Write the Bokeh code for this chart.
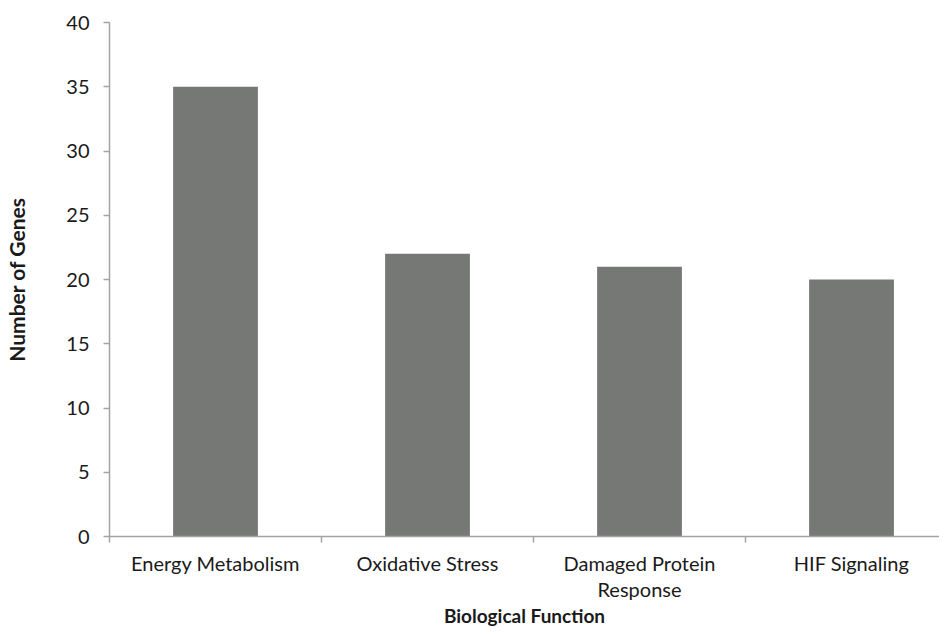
from bokeh.plotting import figure
from bokeh.models import Range1d, FixedTicker, ColumnDataSource
from bokeh.embed import file_html
from bokeh.resources import INLINE

categories = ["Energy Metabolism", "Oxidative Stress", "Damaged Protein\nResponse", "HIF Signaling"]
genes = [35, 22, 21, 20]
y_ticks = [0, 5, 10, 15, 20, 25, 30, 35, 40]

FONT = "Lato"
AXIS_COLOR = "#a3a3a3"
BAR_COLOR = "#767876"
TEXT_COLOR = "#1a1a1a"

xs = [i + 0.5 for i in range(len(categories))]
src = ColumnDataSource(dict(x=xs, top=genes, cat=categories))

p = figure(width=939, height=629, output_backend="svg", toolbar_location=None,
           x_range=Range1d(0, 3.915), y_range=Range1d(0, 40))
p.min_border_left = 109
p.min_border_top = 22
p.min_border_bottom = 91
p.min_border_right = 0
p.outline_line_color = None
p.xgrid.grid_line_color = None
p.ygrid.grid_line_color = None
p.background_fill_color = "white"
p.border_fill_color = "white"

p.vbar(x="x", top="top", width=0.4, bottom=0, source=src,
       fill_color=BAR_COLOR, line_color=None)

# x axis: tick marks at category boundaries (minor), labels at centres
xa = p.xaxis[0]
xa.ticker = FixedTicker(ticks=xs, minor_ticks=list(range(len(categories) + 1)))
xa.major_label_overrides = {x: c for x, c in zip(xs, categories)}
xa.major_tick_line_color = None
xa.major_tick_out = 6
xa.minor_tick_out = 6
xa.minor_tick_in = 0
xa.minor_tick_line_color = AXIS_COLOR
xa.minor_tick_line_width = 1.5
xa.axis_line_color = AXIS_COLOR
xa.axis_line_width = 1.5
xa.major_label_text_font = FONT
xa.major_label_text_font_size = "20px"
xa.major_label_text_color = TEXT_COLOR
xa.major_label_text_line_height = 1.1
xa.major_label_standoff = 8
xa.axis_label = "Biological Function"
xa.axis_label_text_font = FONT
xa.axis_label_text_font_size = "19px"
xa.axis_label_text_font_style = "bold"
xa.axis_label_text_color = TEXT_COLOR
xa.axis_label_standoff = 0

ya = p.yaxis[0]
ya.ticker = FixedTicker(ticks=y_ticks)
ya.minor_tick_line_color = None
ya.major_tick_out = 6
ya.major_tick_in = 0
ya.major_tick_line_color = AXIS_COLOR
ya.major_tick_line_width = 1.5
ya.axis_line_color = AXIS_COLOR
ya.axis_line_width = 1.5
ya.major_label_text_font = FONT
ya.major_label_text_font_size = "20px"
ya.major_label_text_color = TEXT_COLOR
ya.major_label_standoff = 14
ya.axis_label = "Number of Genes"
ya.axis_label_text_font = FONT
ya.axis_label_text_font_size = "21px"
ya.axis_label_text_font_style = "bold"
ya.axis_label_text_color = TEXT_COLOR
ya.axis_label_standoff = 34

open("out.html", "w").write(file_html(p, INLINE))
